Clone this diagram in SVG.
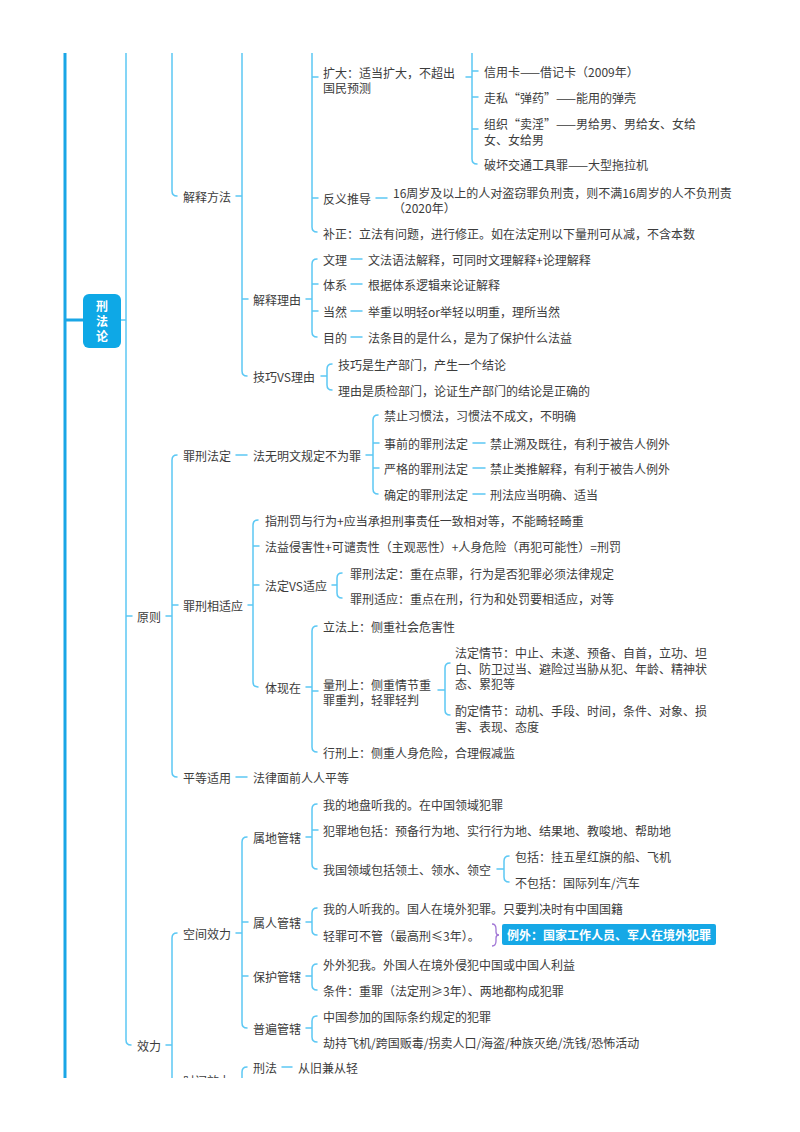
<svg xmlns="http://www.w3.org/2000/svg" width="800" height="1132" viewBox="0 0 800 1132">
<style>
.t{font-family:"Noto Sans CJK SC","Noto Sans",sans-serif;font-size:12px;fill:#3c3c3c;dominant-baseline:central}
.w{font-family:"Noto Sans CJK SC","Noto Sans",sans-serif;font-size:12px;fill:#ffffff;font-weight:bold;dominant-baseline:central}
.v{font-family:"Noto Sans CJK SC","Noto Sans",sans-serif;font-size:12px;fill:#ffffff;font-weight:bold;writing-mode:vertical-rl;letter-spacing:3px}
.c{fill:none;stroke:#5CC8F4;stroke-width:1.5;stroke-linecap:round}
.k{fill:none;stroke:#1AA6E6;stroke-width:3}
.s{fill:none;stroke:#A277D6;stroke-width:1.3}
</style>
<defs>
<clipPath id="pg"><rect x="0" y="53" width="800" height="1025"/></clipPath>
</defs>
<rect width="800" height="1132" fill="#ffffff"/>
<g clip-path="url(#pg)">
<g id="connectors">
<path class="k" d="M65,53 V1078 M65,320 H83"/>
<path class="c" d="M121,320 H126 M126,53 V1040 Q126,1045 131,1045 M126,616 h6"/>
<path class="c" d="M172,53 V191 Q172,196 177,196"/>
<path class="c" d="M166,616 H172 M177,455 Q172,455 172,460 V772 Q172,777 177,777 M172,605 h6"/>
<path class="c" d="M166,1045 H172 M177,933 Q172,933 172,938 V1078"/>
<path class="c" d="M236,196 H242 M242,53 V371 Q242,376 247,376 M242,299 h6"/>
<path class="c" d="M236,933 H242 M247,837 Q242,837 242,842 V1023 Q242,1028 247,1028 M242,922 h6 M242,976 h6"/>
<path class="c" d="M247,1067 Q242,1067 242,1072 V1078"/>
<path class="c" d="M248,605 H253 M258,520 Q253,520 253,525 V682 Q253,687 258,687 M253,546 h6 M253,585 h6"/>
<path class="c" d="M236,455 H247 M236,777 H247"/>
<path class="c" d="M312,53 V227 Q312,232 317,232 M312,77 h6 M312,198 h6"/>
<path class="c" d="M306,299 H312 M317,259 Q312,259 312,264 V332 Q312,337 317,337 M312,284 h6 M312,311 h6"/>
<path class="c" d="M351,259 H362 M351,284 H362 M351,311 H362 M351,337 H362 M376,198 H387"/>
<path class="c" d="M306,687 H312 M317,626 Q312,626 312,631 V747 Q312,752 317,752 M312,691 h6"/>
<path class="c" d="M306,837 H312 M317,804 Q312,804 312,809 V864 Q312,869 317,869 M312,830 h6"/>
<path class="c" d="M306,922 H312 M317,908 Q312,908 312,913 V930 Q312,935 317,935"/>
<path class="c" d="M306,976 H312 M317,964 Q312,964 312,969 V985 Q312,990 317,990"/>
<path class="c" d="M306,1028 H312 M317,1016 Q312,1016 312,1021 V1037 Q312,1042 317,1042"/>
<path class="c" d="M282,1067 H292"/>
<path class="c" d="M321,376 H327 M332,364 Q327,364 327,369 V385 Q327,390 332,390"/>
<path class="c" d="M332,585 H337 M342,573 Q337,573 337,578 V593 Q337,598 342,598"/>
<path class="c" d="M366,455 H373 M378,415 Q373,415 373,420 V489 Q373,494 378,494 M373,443 h6 M373,468 h6"/>
<path class="c" d="M473,443 H485 M473,468 H485 M473,494 H485"/>
<path class="c" d="M466,77 H472 M472,53 V159 Q472,164 477,164 M472,71 h6 M472,97 h6 M472,129 h6"/>
<path class="c" d="M438,690 H445 M450,663 Q445,663 445,668 V710 Q445,715 450,715"/>
<path class="c" d="M497,869 H504 M509,856 Q504,856 504,861 V877 Q504,882 509,882"/>
<path class="s" d="M492,924 Q496,924 496,929 V932 Q496,935 499,935 Q496,935 496,938 V941 Q496,946 492,946"/>
</g>
<g id="root">
<rect x="83" y="294" width="38" height="54" rx="6" fill="#0EA8E6"/>
<text class="v" x="102" y="300">刑法论</text>
</g>
<g id="n-jieshifangfa"><text class="t" x="183" y="196">解释方法</text></g>
<g id="n-kuoda"><text class="t" x="323" y="72">扩大：适当扩大，不超出<tspan x="323" dy="15">国民预测</tspan></text></g>
<g id="n-xinyongka"><text class="t" x="484" y="71">信用卡——借记卡（2009年）</text></g>
<g id="n-zousi"><text class="t" x="484" y="97">走私“弹药”——能用的弹壳</text></g>
<g id="n-zuzhi"><text class="t" x="484" y="123">组织“卖淫”——男给男、男给女、女给<tspan x="484" dy="16">女、女给男</tspan></text></g>
<g id="n-pohuai"><text class="t" x="484" y="164">破坏交通工具罪——大型拖拉机</text></g>
<g id="n-fanyi"><text class="t" x="323" y="198">反义推导</text></g>
<g id="n-fanyi-1"><text class="t" x="393" y="192">16周岁及以上的人对盗窃罪负刑责，则不满16周岁的人不负刑责<tspan x="393" dy="15">（2020年）</tspan></text></g>
<g id="n-buzheng"><text class="t" x="323" y="233">补正：立法有问题，进行修正。如在法定刑以下量刑可从减，不含本数</text></g>
<g id="n-jieshiliyou"><text class="t" x="253" y="299">解释理由</text></g>
<g id="n-wenli"><text class="t" x="323" y="259">文理</text><text class="t" x="368" y="259">文法语法解释，可同时文理解释+论理解释</text></g>
<g id="n-tixi"><text class="t" x="323" y="284">体系</text><text class="t" x="368" y="284">根据体系逻辑来论证解释</text></g>
<g id="n-dangran"><text class="t" x="323" y="311">当然</text><text class="t" x="368" y="311">举重以明轻or举轻以明重，理所当然</text></g>
<g id="n-mudi"><text class="t" x="323" y="337">目的</text><text class="t" x="368" y="337">法条目的是什么，是为了保护什么法益</text></g>
<g id="n-jiqiao"><text class="t" x="253" y="376">技巧VS理由</text></g>
<g id="n-jiqiao-1"><text class="t" x="338" y="364">技巧是生产部门，产生一个结论</text></g>
<g id="n-jiqiao-2"><text class="t" x="338" y="390">理由是质检部门，论证生产部门的结论是正确的</text></g>
<g id="n-yuanze"><text class="t" x="137" y="616">原则</text></g>
<g id="n-zuixingfading"><text class="t" x="183" y="455">罪刑法定</text></g>
<g id="n-fawumingwen"><text class="t" x="253" y="455">法无明文规定不为罪</text></g>
<g id="n-jinzhi"><text class="t" x="384" y="415">禁止习惯法，习惯法不成文，不明确</text></g>
<g id="n-shiqian"><text class="t" x="384" y="443">事前的罪刑法定</text><text class="t" x="490" y="443">禁止溯及既往，有利于被告人例外</text></g>
<g id="n-yange"><text class="t" x="384" y="468">严格的罪刑法定</text><text class="t" x="490" y="468">禁止类推解释，有利于被告人例外</text></g>
<g id="n-queding"><text class="t" x="384" y="494">确定的罪刑法定</text><text class="t" x="490" y="494">刑法应当明确、适当</text></g>
<g id="n-xiangshiying"><text class="t" x="183" y="605">罪刑相适应</text></g>
<g id="n-zhi"><text class="t" x="265" y="520">指刑罚与行为+应当承担刑事责任一致相对等，不能畸轻畸重</text></g>
<g id="n-fayi"><text class="t" x="265" y="546">法益侵害性+可谴责性（主观恶性）+人身危险（再犯可能性）=刑罚</text></g>
<g id="n-fadingvs"><text class="t" x="265" y="585">法定VS适应</text></g>
<g id="n-fadingvs-1"><text class="t" x="350" y="573">罪刑法定：重在点罪，行为是否犯罪必须法律规定</text></g>
<g id="n-fadingvs-2"><text class="t" x="350" y="598">罪刑适应：重点在刑，行为和处罚要相适应，对等</text></g>
<g id="n-tixianzai"><text class="t" x="265" y="687">体现在</text></g>
<g id="n-lifa"><text class="t" x="323" y="626">立法上：侧重社会危害性</text></g>
<g id="n-liangxing"><text class="t" x="323" y="684">量刑上：侧重情节重<tspan x="323" dy="15">罪重判，轻罪轻判</tspan></text></g>
<g id="n-fadingqingjie"><text class="t" x="455" y="652.5">法定情节：中止、未遂、预备、自首，立功、坦<tspan x="455" dy="15">白、防卫过当、避险过当胁从犯、年龄、精神状</tspan><tspan x="455" dy="15">态、累犯等</tspan></text></g>
<g id="n-zhuoding"><text class="t" x="455" y="710.5">酌定情节：动机、手段、时间，条件、对象、损<tspan x="455" dy="15">害、表现、态度</tspan></text></g>
<g id="n-xingxing"><text class="t" x="323" y="752">行刑上：侧重人身危险，合理假减监</text></g>
<g id="n-pingdeng"><text class="t" x="183" y="777">平等适用</text><text class="t" x="253" y="777">法律面前人人平等</text></g>
<g id="n-xiaoli"><text class="t" x="137" y="1045">效力</text></g>
<g id="n-kongjian"><text class="t" x="183" y="933">空间效力</text></g>
<g id="n-shudi"><text class="t" x="253" y="837">属地管辖</text></g>
<g id="n-shudi-1"><text class="t" x="323" y="804">我的地盘听我的。在中国领域犯罪</text></g>
<g id="n-shudi-2"><text class="t" x="323" y="830">犯罪地包括：预备行为地、实行行为地、结果地、教唆地、帮助地</text></g>
<g id="n-shudi-3"><text class="t" x="323" y="869">我国领域包括领土、领水、领空</text></g>
<g id="n-baokuo"><text class="t" x="515" y="856">包括：挂五星红旗的船、飞机</text></g>
<g id="n-bubaokuo"><text class="t" x="515" y="882">不包括：国际列车/汽车</text></g>
<g id="n-shuren"><text class="t" x="253" y="922">属人管辖</text></g>
<g id="n-shuren-1"><text class="t" x="323" y="908">我的人听我的。国人在境外犯罪。只要判决时有中国国籍</text></g>
<g id="n-shuren-2"><text class="t" x="323" y="935">轻罪可不管（最高刑≤3年）。</text></g>
<g id="n-liwai"><rect x="502" y="924" width="214" height="21" rx="2" fill="#16A8E6"/><text class="w" x="507" y="934.5">例外：国家工作人员、军人在境外犯罪</text></g>
<g id="n-baohu"><text class="t" x="253" y="976">保护管辖</text></g>
<g id="n-baohu-1"><text class="t" x="323" y="964">外外犯我。外国人在境外侵犯中国或中国人利益</text></g>
<g id="n-baohu-2"><text class="t" x="323" y="990">条件：重罪（法定刑≥3年）、两地都构成犯罪</text></g>
<g id="n-pubian"><text class="t" x="253" y="1028">普遍管辖</text></g>
<g id="n-pubian-1"><text class="t" x="323" y="1016">中国参加的国际条约规定的犯罪</text></g>
<g id="n-pubian-2"><text class="t" x="323" y="1042">劫持飞机/跨国贩毒/拐卖人口/海盗/种族灭绝/洗钱/恐怖活动</text></g>
<g id="n-xingfa"><text class="t" x="253" y="1067">刑法</text><text class="t" x="298" y="1067">从旧兼从轻</text></g>
<g id="n-shijian"><text class="t" x="183" y="1080">时间效力</text></g>
</g>
</svg>
